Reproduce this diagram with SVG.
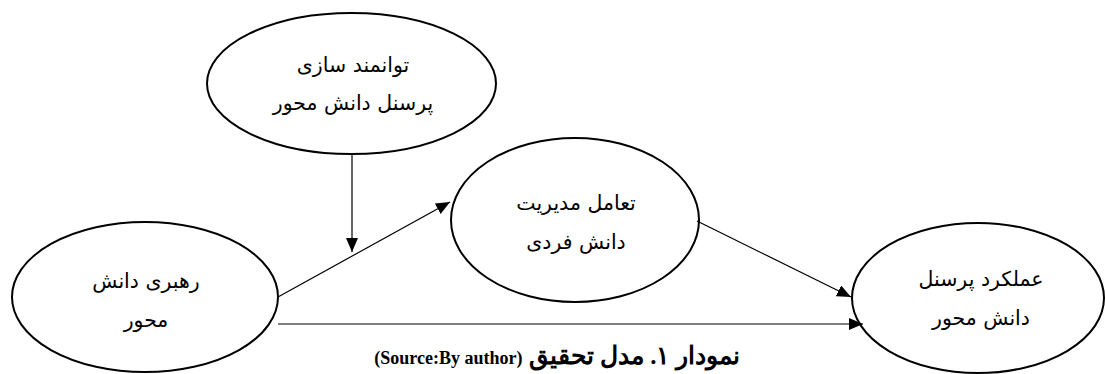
<svg xmlns="http://www.w3.org/2000/svg" width="1105" height="374" viewBox="0 0 1105 374">
<style>
.node ellipse{fill:#fff;stroke:#000;stroke-width:2}
.lbl{font-family:"DejaVu Sans","Liberation Serif",serif;font-size:20.5px;fill:#000;text-anchor:middle}
.edge line{stroke:#000;stroke-width:1.2}
.cap{font-family:"Liberation Serif","DejaVu Serif",serif;font-weight:bold;text-anchor:middle}
</style>
<defs>
<marker id="ah" viewBox="0 0 14 12" refX="14" refY="6" markerWidth="14" markerHeight="12" markerUnits="userSpaceOnUse" orient="auto">
<path d="M0,0 L14,6 L0,12 Z" fill="#000"/>
</marker>
</defs>
<g id="n1" class="node">
<ellipse cx="351.5" cy="83.5" rx="144.5" ry="70.5"/>
<text class="lbl" x="353" y="72" direction="rtl">توانمند سازی</text>
<text class="lbl" x="353" y="110" direction="rtl">پرسنل دانش محور</text>
</g>
<g id="n2" class="node">
<ellipse cx="145" cy="297" rx="133" ry="75"/>
<text class="lbl" x="146" y="288" direction="rtl">رهبری دانش</text>
<text class="lbl" x="146" y="327" direction="rtl">محور</text>
</g>
<g id="n3" class="node">
<ellipse cx="575" cy="220" rx="124" ry="82"/>
<text class="lbl" x="576" y="210" direction="rtl">تعامل مدیریت</text>
<text class="lbl" x="576" y="249" direction="rtl">دانش فردی</text>
</g>
<g id="n4" class="node">
<ellipse cx="978" cy="298" rx="126" ry="75"/>
<text class="lbl" x="981" y="286" direction="rtl">عملکرد پرسنل</text>
<text class="lbl" x="981" y="325" direction="rtl">دانش محور</text>
</g>
<g id="edges" class="edge">
<line x1="352" y1="154" x2="352" y2="252" marker-end="url(#ah)"/>
<line x1="278" y1="297" x2="450" y2="202" marker-end="url(#ah)"/>
<line x1="697" y1="221" x2="851" y2="297" marker-end="url(#ah)"/>
<line x1="278" y1="324" x2="863" y2="324" marker-end="url(#ah)"/>
</g>
<text class="cap" x="557" y="364" direction="rtl"><tspan font-size="25">نمودار ۱. مدل تحقیق </tspan><tspan font-size="18">(Source:By author)</tspan></text>
</svg>
